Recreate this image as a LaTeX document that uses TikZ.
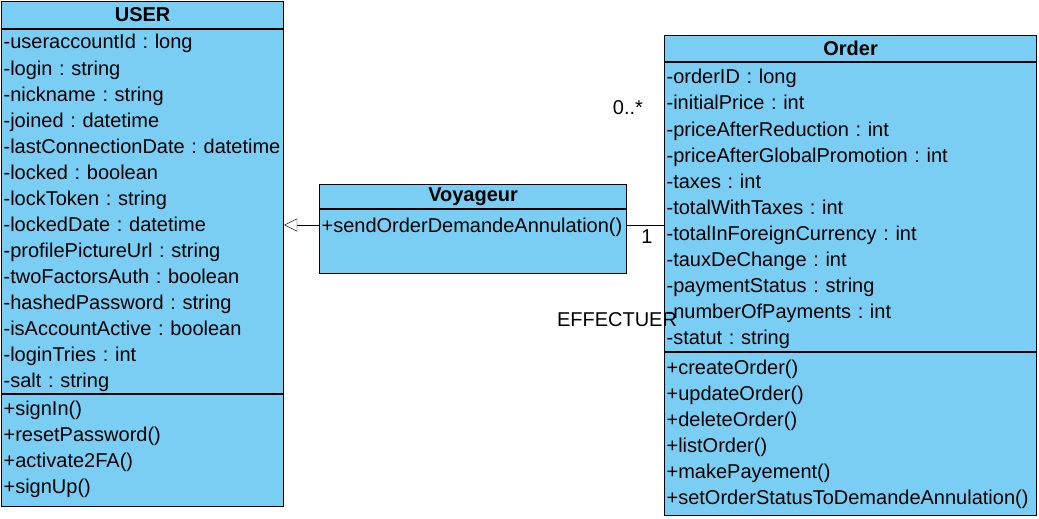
\documentclass[tikz,border=0pt]{standalone}
\usepackage{fontspec}
\setmainfont{Liberation Sans}
\usepackage{tikz}
\usetikzlibrary{positioning,arrows.meta,calc}

\definecolor{umlblue}{RGB}{122,206,244}
\frenchspacing

\begin{document}
\begin{tikzpicture}[x=1pt, y=-1pt, node distance=0pt,
        font=\fontsize{20}{22}\selectfont,
        classbox/.style = {draw, line width=1.2pt, fill=umlblue, anchor=north west, inner sep=0},
        title/.style = {font=\fontsize{20}{22}\selectfont\bfseries, inner sep=0, outer sep=0},
        row/.style = {inner sep=0, outer sep=0, minimum height=26pt, text height=17pt, text depth=3pt, align=left,
            execute at begin node={\hyphenpenalty=10000\exhyphenpenalty=10000}}]
            \useasboundingbox (0,0) rectangle (1039,519);

            % USER
            \node[classbox, minimum width=282, minimum height=505] (user) at (1,1) {};
            \node[title, minimum height=28, anchor=north] (usertitle) at (user.north) {USER};
            \node[row, text width=278] (u1) [below=of usertitle] {-useraccountId : long};
            \node[row, text width=278] (u2) [below=of u1] {-login : string};
            \node[row, text width=278] (u3) [below=of u2] {-nickname : string};
            \node[row, text width=278] (u4) [below=of u3] {-joined : datetime};
            \node[row, text width=278] (u5) [below=of u4] {-lastConnectionDate : datetime};
            \node[row, text width=278] (u6) [below=of u5] {-locked : boolean};
            \node[row, text width=278] (u7) [below=of u6] {-lockToken : string};
            \node[row, text width=278] (u8) [below=of u7] {-lockedDate : datetime};
            \node[row, text width=278] (u9) [below=of u8] {-profilePictureUrl : string};
            \node[row, text width=278] (u10) [below=of u9] {-twoFactorsAuth : boolean};
            \node[row, text width=278] (u11) [below=of u10] {-hashedPassword : string};
            \node[row, text width=278] (u12) [below=of u11] {-isAccountActive : boolean};
            \node[row, text width=278] (u13) [below=of u12] {-loginTries : int};
            \node[row, text width=278] (u14) [below=of u13] {-salt : string};
            \node[row, text width=278] (um1) [below=2pt of u14] {+signIn()};
            \node[row, text width=278] (um2) [below=of um1] {+resetPassword()};
            \node[row, text width=278] (um3) [below=of um2] {+activate2FA()};
            \node[row, text width=278] (um4) [below=of um3] {+signUp()};
            \draw[line width=1.2pt] (user.west |- usertitle.south) -- (user.east |- usertitle.south);
            \draw[line width=1.2pt] (user.west |- {$(u14.south)!.5!(um1.north)$}) -- (user.east |- {$(u14.south)!.5!(um1.north)$});

            % Voyageur
            \node[classbox, minimum width=307, minimum height=89] (voyageur) at (319,184) {};
            \node[title, minimum height=25, anchor=north] (voyageurtitle) at (voyageur.north) {Voyageur};
            \node[row, text width=303] (vm1) [below=3pt of voyageurtitle] {+sendOrderDemandeAnnulation()};
            \draw[line width=1.2pt] (voyageur.west |- voyageurtitle.south) -- (voyageur.east |- voyageurtitle.south);

            % Order
            \node[classbox, minimum width=372, minimum height=480] (order) at (664,35) {};
            \node[title, minimum height=27, anchor=north] (ordertitle) at (order.north) {Order};
            \node[row, text width=368] (o1) [below=2pt of ordertitle] {-orderID : long};
            \node[row, text width=368] (o2) [below=of o1] {-initialPrice : int};
            \node[row, text width=368] (o3) [below=of o2] {-priceAfterReduction : int};
            \node[row, text width=368] (o4) [below=of o3] {-priceAfterGlobalPromotion : int};
            \node[row, text width=368] (o5) [below=of o4] {-taxes : int};
            \node[row, text width=368] (o6) [below=of o5] {-totalWithTaxes : int};
            \node[row, text width=368] (o7) [below=of o6] {-totalInForeignCurrency : int};
            \node[row, text width=368] (o8) [below=of o7] {-tauxDeChange : int};
            \node[row, text width=368] (o9) [below=of o8] {-paymentStatus : string};
            \node[row, text width=368] (o10) [below=of o9] {-numberOfPayments : int};
            \node[row, text width=368] (o11) [below=of o10] {-statut : string};
            \node[row, text width=368] (om1) [below=4pt of o11] {+createOrder()};
            \node[row, text width=368] (om2) [below=of om1] {+updateOrder()};
            \node[row, text width=368] (om3) [below=of om2] {+deleteOrder()};
            \node[row, text width=368] (om4) [below=of om3] {+listOrder()};
            \node[row, text width=368] (om5) [below=of om4] {+makePayement()};
            \node[row, text width=368] (om6) [below=of om5] {+setOrderStatusToDemandeAnnulation()};
            \draw[line width=1.2pt] (order.west |- ordertitle.south) -- (order.east |- ordertitle.south);
            \draw[line width=1.2pt] (order.west |- {$(o11.south)!.5!(om1.north)$}) -- (order.east |- {$(o11.south)!.5!(om1.north)$});

            % generalisation and association
            \draw[-{Triangle[open, length=13pt, width=13pt, fill=white]}] (vm1.west -| voyageur.west) -- (vm1.west -| user.east);
            \draw (vm1.west -| voyageur.east) -- (vm1.west -| order.west);
            \node (many) at (628,108) {0..*};
            \node (one) at (647,237) {1};
            \node (effectuer) at (617,320) {EFFECTUER};
        \end{tikzpicture}
\end{document}
